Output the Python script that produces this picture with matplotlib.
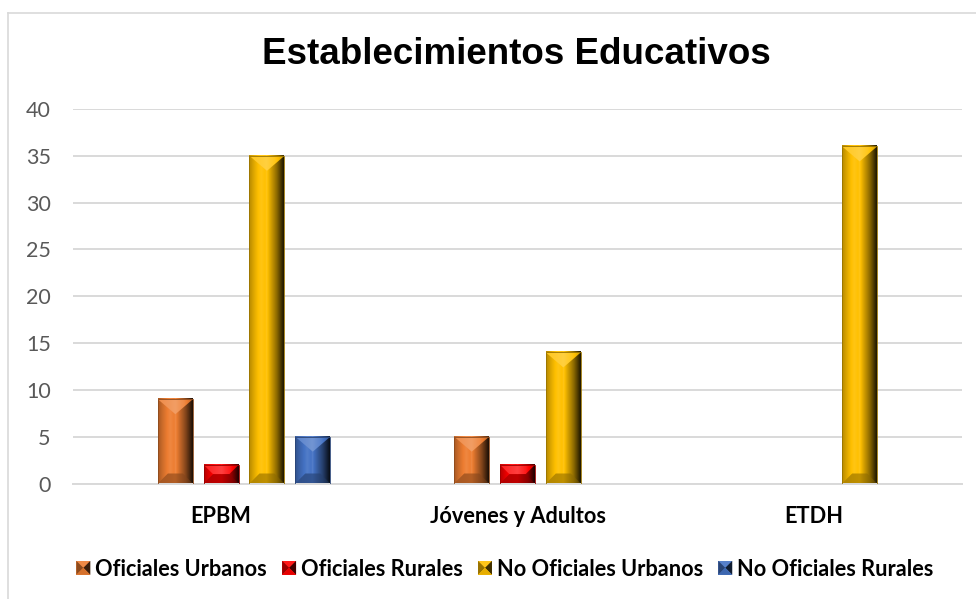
import numpy as np
import matplotlib
matplotlib.use("Agg")
import matplotlib.pyplot as plt
from matplotlib.patches import Polygon, Patch
from matplotlib.lines import Line2D
from matplotlib.colors import to_rgb

categories = ["EPBM", "Jóvenes y Adultos", "ETDH"]
series_names = ["Oficiales Urbanos", "Oficiales Rurales", "No Oficiales Urbanos", "No Oficiales Rurales"]
oficiales_urbanos = [9, 5, 0]
oficiales_rurales = [2, 2, 0]
no_oficiales_urbanos = [35, 14, 36]
no_oficiales_rurales = [5, 0, 0]
series_values = [oficiales_urbanos, oficiales_rurales, no_oficiales_urbanos, no_oficiales_rurales]
series_colors = ["#ED7D31", "#FF0000", "#FFC000", "#4472C4"]
yticks = [0, 5, 10, 15, 20, 25, 30, 35, 40]

W, H = 976, 599
DPI = 100
fig = plt.figure(figsize=(W / DPI, H / DPI), dpi=DPI)
fig.patch.set_facecolor("white")

ax_l, ax_r, ax_t, ax_b = 73, 962, 109, 483.5
ax = fig.add_axes([ax_l / W, 1 - ax_b / H, (ax_r - ax_l) / W, (ax_b - ax_t) / H])
ax.set_xlim(-0.5, len(categories) - 0.5)
ax.set_ylim(0, 40)

px_x = (len(categories)) / (ax_r - ax_l)   # data units per pixel (x)
px_y = 40 / (ax_b - ax_t)                  # data units per pixel (y)

step = 45.8 * px_x
bar_w = 35 * px_x


def shade(c, f):
    c = np.array(to_rgb(c))
    if f >= 1:
        return c + (1 - c) * (f - 1)
    return c * f


def grad_img(color, stops):
    ts = np.linspace(0, 1, 64)
    st_t = [s[0] for s in stops]
    st_f = [s[1] for s in stops]
    fs = np.interp(ts, st_t, st_f)
    row = np.array([shade(color, f) for f in fs])
    return np.clip(row[None, :, :], 0, 1)


main_stops = [(0, 0.72), (0.18, 0.92), (0.35, 1.08), (0.47, 1.0), (0.5, 1.12), (0.53, 1.0),
              (0.62, 0.85), (0.8, 0.55), (1.0, 0.12)]
top_stops = [(0, 1.12), (0.5, 1.25), (0.75, 1.1), (1.0, 0.8)]
bot_stops = [(0, 0.7), (0.5, 0.75), (0.8, 0.55), (1.0, 0.3)]

for i, (vals, col) in enumerate(zip(series_values, series_colors)):
    for j, v in enumerate(vals):
        if v <= 0:
            continue
        xc = j + (i - 1) * step
        x0, x1 = xc - bar_w / 2, xc + bar_w / 2
        h = v
        bar_px_h = h / px_y
        if bar_px_h / 2 >= 15:
            dyt, dxt = 15 * px_y, bar_w / 2
            dyb, dxb = 10 * px_y, 10 * px_x
        else:
            d = bar_px_h / 2
            dyt, dxt = d * px_y, d * px_x
            dyb, dxb = dyt, dxt
        ax.imshow(grad_img(col, main_stops), extent=[x0, x1, 0, h], aspect="auto",
                  interpolation="bilinear", zorder=3)
        top = Polygon([(x0, h), (x1, h), (x1 - dxt, h - dyt), (x0 + dxt, h - dyt)],
                      closed=True, transform=ax.transData)
        im = ax.imshow(grad_img(col, top_stops), extent=[x0, x1, 0, h], aspect="auto",
                       interpolation="bilinear", zorder=4)
        im.set_clip_path(top)
        bot = Polygon([(x0, 0), (x1, 0), (x1 - dxb, dyb), (x0 + dxb, dyb)],
                      closed=True, transform=ax.transData)
        im2 = ax.imshow(grad_img(col, bot_stops), extent=[x0, x1, 0, h], aspect="auto",
                        interpolation="bilinear", zorder=4)
        im2.set_clip_path(bot)
        ax.add_patch(Polygon([(x0, 0), (x0, h), (x1, h), (x1, 0)], closed=True,
                             fill=False, edgecolor=shade(col, 0.6), linewidth=0.6, zorder=5))

ax.set_xlim(-0.5, len(categories) - 0.5)
ax.set_ylim(0, 40)
ax.set_yticks(yticks)
ax.set_xticks(range(len(categories)))
ax.set_xticklabels(categories, fontfamily="Lato", fontweight="bold", fontsize=15.7, color="black")
ax.set_yticklabels([str(t) for t in yticks], fontfamily="Lato", fontsize=15.5, color="#595959")
ax.tick_params(axis="y", length=0, pad=16)
ax.tick_params(axis="x", length=0, pad=16)
ax.grid(axis="y", color="#D9D9D9", linewidth=1.4, zorder=0)
ax.set_axisbelow(True)
for s in ["left", "right", "top"]:
    ax.spines[s].set_visible(False)
ax.spines["bottom"].set_color("#D9D9D9")
ax.spines["bottom"].set_linewidth(1.4)
ax.set_facecolor("none")

fig.text(516 / W, 1 - 54 / H, "Establecimientos Educativos", ha="center", va="center",
         fontfamily="Liberation Sans", fontweight="bold", fontsize=26.5, color="black")


class BevelHandler:
    def __init__(self, color):
        self.color = color

    def legend_artist(self, legend, orig_handle, fontsize, handlebox):
        x0, y0 = -handlebox.xdescent, -handlebox.ydescent
        w, h = handlebox.width, handlebox.height
        s = min(w, h)
        cx, cy = x0 + w / 2, y0 + h / 2
        l, r, b, t = cx - s / 2, cx + s / 2, cy - s / 2, cy + s / 2
        tr = handlebox.get_transform()
        c = self.color
        arts = [
            Polygon([(l, b), (r, b), (r, t), (l, t)], closed=True, facecolor=shade(c, 1.1),
                    edgecolor="none", transform=tr),
            Polygon([(l, b), (l, t), (cx, cy)], closed=True, facecolor=shade(c, 0.6),
                    edgecolor="none", transform=tr),
            Polygon([(r, b), (r, t), (cx, cy)], closed=True, facecolor=shade(c, 0.25),
                    edgecolor="none", transform=tr),
            Polygon([(l, b), (r, b), (cx, cy)], closed=True, facecolor=shade(c, 0.9),
                    edgecolor="none", transform=tr),
        ]
        for a in arts:
            handlebox.add_artist(a)
        return arts[0]


handles = [Patch(facecolor=c, label=n) for c, n in zip(series_colors, series_names)]
hmap = {hd: BevelHandler(c) for hd, c in zip(handles, series_colors)}
leg = fig.legend(handles=handles, labels=series_names, handler_map=hmap, ncol=4,
                 loc="center", bbox_to_anchor=(505 / W, 1 - 569 / H), frameon=False,
                 prop={"family": "Lato", "weight": "bold", "size": 15.7},
                 handlelength=0.64, handleheight=0.64, handletextpad=0.23,
                 columnspacing=0.69, borderaxespad=0, borderpad=0)

# chart area border (top and left visible)
fig.add_artist(Line2D([8 / W, 8 / W], [0, 1 - 13 / H], transform=fig.transFigure,
                      color="#D9D9D9", linewidth=1.2))
fig.add_artist(Line2D([8 / W, 1], [1 - 13 / H, 1 - 13 / H], transform=fig.transFigure,
                      color="#D9D9D9", linewidth=1.2))

fig.savefig("out.png", dpi=DPI)
